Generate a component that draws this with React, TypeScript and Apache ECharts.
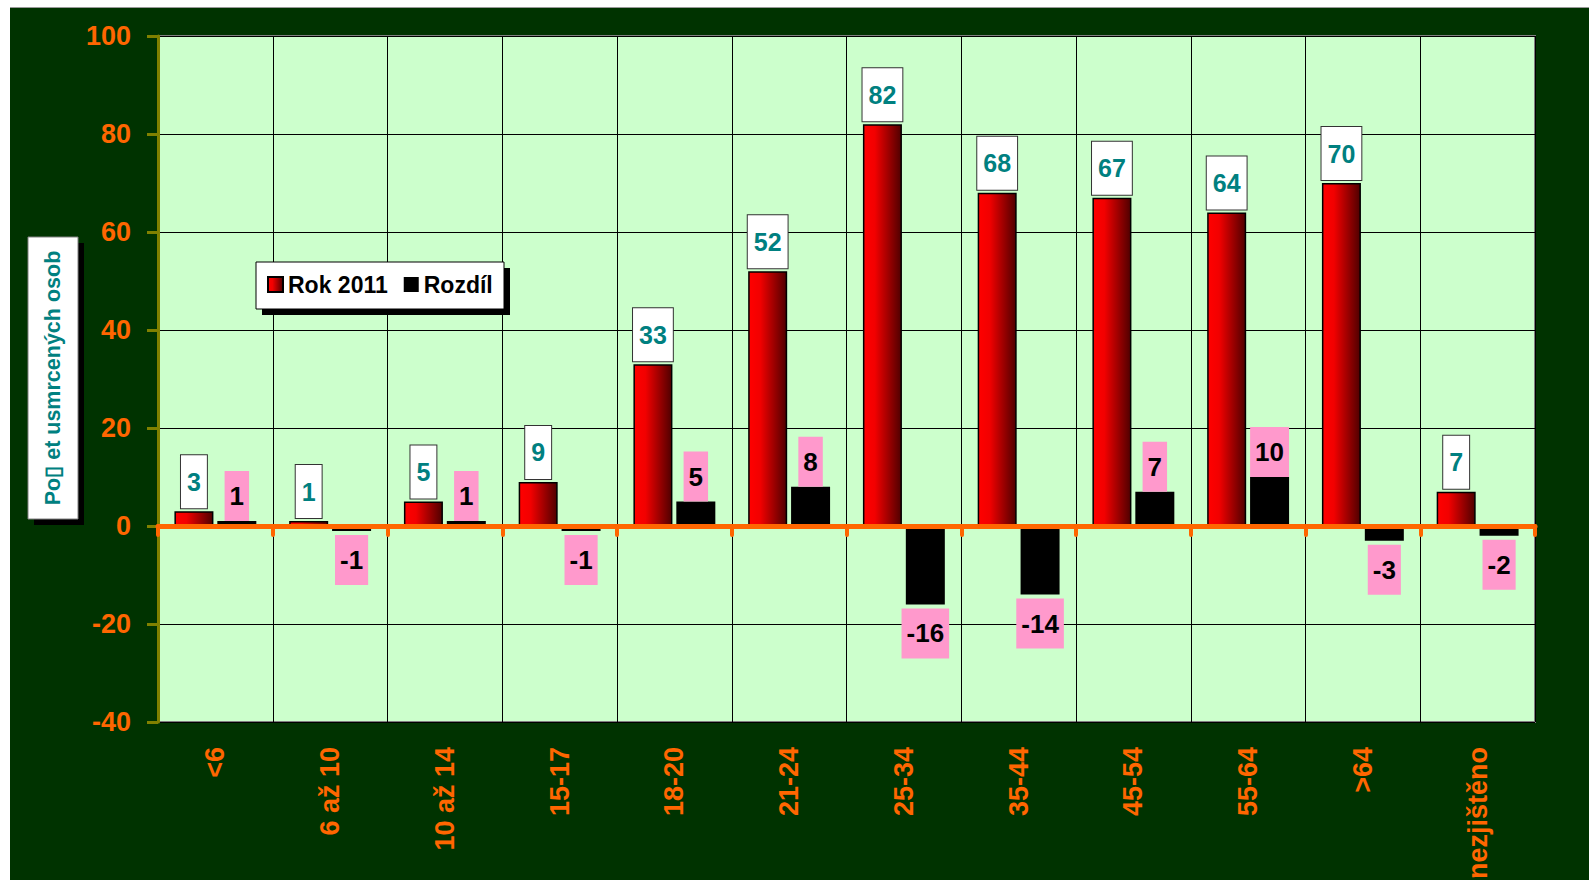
import React, { useEffect, useRef } from "react";
import * as echarts from "echarts";

const categories = ["<6", "6 až 10", "10 až 14", "15-17", "18-20", "21-24", "25-34", "35-44", "45-54", "55-64", ">64", "nezjištěno"];
const rok2011 = [3, 1, 5, 9, 33, 52, 82, 68, 67, 64, 70, 7];
const rozdil = [1, -1, 1, -1, 5, 8, -16, -14, 7, 10, -3, -2];
const seriesNames = ["Rok 2011", "Rozdíl"];
const yTitle = "Po\u25AF et usmrcených osob";

const SANS = "'Liberation Sans', Arial, sans-serif";

export default function App() {
  const ref = useRef<HTMLDivElement>(null);
  useEffect(() => {
    if (!ref.current) return;
    const chart = echarts.init(ref.current, undefined, { renderer: "svg" });
    const redGrad = new echarts.graphic.LinearGradient(0, 0, 1, 0, [
      { offset: 0, color: "#ff0000" },
      { offset: 0.3, color: "#f20000" },
      { offset: 1, color: "#500000" },
    ]);
    const option: any = {
      animation: false,
      backgroundColor: "#003300",
      grid: {
        left: 148,
        top: 28,
        width: 1377,
        height: 686,
        show: true,
        containLabel: false,
        outerBoundsMode: "none",
        backgroundColor: "#CCFFCC",
        borderColor: "#808080",
        borderWidth: 2,
      },
      legend: {
        data: seriesNames,
        left: 257,
        top: 265,
        padding: 0,
        itemGap: 16,
        itemWidth: 15,
        itemHeight: 15,
        icon: "rect",
        z: 60,
        textStyle: { fontSize: 23, fontWeight: "bold", color: "#000", fontFamily: SANS },
      },
      xAxis: [
        {
          type: "category",
          data: categories,
          position: "bottom",
          axisLine: { show: false, onZero: false },
          axisTick: { show: false },
          splitLine: { show: true, interval: 0, lineStyle: { color: "#000", width: 1 } },
          axisLabel: {
            rotate: 90,
            interval: 0,
            margin: 25,
            color: "#FF6600",
            fontSize: 27,
            fontWeight: "bold",
            fontFamily: SANS,
          },
        },
        {
          type: "category",
          data: categories,
          position: "bottom",
          z: 10,
          axisLine: { show: true, onZero: true, lineStyle: { color: "#FF6600", width: 5 } },
          axisTick: { show: true, length: 9, interval: 0, lineStyle: { color: "#FF6600", width: 4, cap: "round" } },
          axisLabel: { show: false },
          splitLine: { show: false },
        },
      ],
      yAxis: {
        type: "value",
        min: -40,
        max: 100,
        interval: 20,
        axisLine: { show: true, lineStyle: { color: "#808000", width: 3 } },
        axisTick: { show: true, length: 11, lineStyle: { color: "#808000", width: 3 } },
        splitLine: { show: true, lineStyle: { color: "#000", width: 1 } },
        axisLabel: { margin: 27, color: "#FF6600", fontSize: 27, fontWeight: "bold", fontFamily: SANS },
      },
      graphic: [
        { type: "rect", z: 50, shape: { x: 252, y: 260, width: 248, height: 47 }, style: { fill: "#000" } },
        { type: "rect", z: 51, shape: { x: 246, y: 254, width: 248, height: 47 }, style: { fill: "#fff", stroke: "#000", lineWidth: 1 } },
        { type: "rect", z: 50, shape: { x: 24, y: 235, width: 50, height: 282 }, style: { fill: "#000" } },
        { type: "rect", z: 51, shape: { x: 18, y: 229, width: 50, height: 282 }, style: { fill: "#fff", stroke: "#808080", lineWidth: 1 } },
        {
          type: "text",
          z: 52,
          x: 43,
          y: 370,
          rotation: Math.PI / 2,
          style: {
            text: yTitle,
            fill: "#008080",
            fontSize: 21.5,
            fontWeight: "bold",
            fontFamily: SANS,
            align: "center",
            verticalAlign: "middle",
          },
        },
      ],
      series: [
        {
          name: seriesNames[0],
          type: "bar",
          xAxisIndex: 0,
          barWidth: 39,
          barGap: "10%",
          data: rok2011,
          itemStyle: { color: redGrad, borderColor: "#000", borderWidth: 1.5 },
          label: {
            show: true,
            position: "top",
            distance: 3,
            color: "#008080",
            fontSize: 25,
            lineHeight: 25,
            fontWeight: "bold",
            fontFamily: SANS,
            backgroundColor: "#fff",
            borderColor: "#333",
            borderWidth: 1,
            padding: [14, 6, 14, 6],
          },
        },
        {
          name: seriesNames[1],
          type: "bar",
          xAxisIndex: 0,
          barWidth: 39,
          data: rozdil.map((v) => ({
            value: v,
            label: v < 0 ? { position: "bottom", distance: 4 } : { position: "top", distance: 0 },
          })),
          itemStyle: { color: "#000" },
          label: {
            show: true,
            color: "#000",
            fontSize: 26,
            lineHeight: 26,
            fontWeight: "bold",
            fontFamily: SANS,
            backgroundColor: "#FF99CC",
            padding: [12, 5, 12, 5],
          },
        },
      ],
    };
    chart.setOption(option);
    return () => chart.dispose();
  }, []);
  return (
    <div
      ref={ref}
      style={{ position: "absolute", left: 10, top: 7, width: 1579, height: 873, borderTop: "1px solid #999", boxSizing: "border-box" }}
    />
  );
}
